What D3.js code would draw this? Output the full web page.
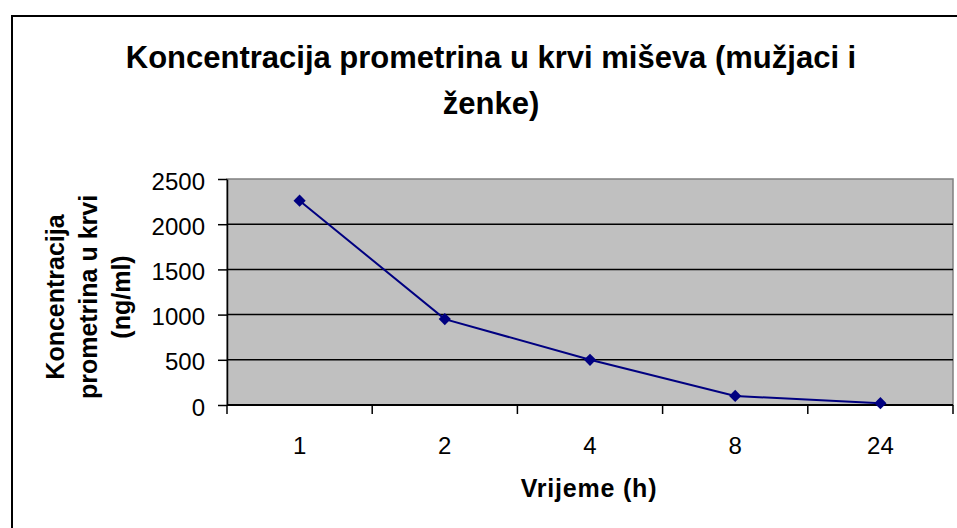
<!DOCTYPE html>
<html>
<head>
<meta charset="utf-8">
<script src="https://cdn.jsdelivr.net/npm/d3@7"></script>
<style>
  body { margin: 0; background: #fff; }
  text { font-family: "Liberation Sans", Arial, sans-serif; fill: #000; }
</style>
</head>
<body>
<div id="chart"></div>
<script>
// chart data
const CATEGORIES = ['1', '2', '4', '8', '24'];
const VALUES = [2260, 950, 500, 100, 20];
const Y_TICKS = [0, 500, 1000, 1500, 2000, 2500];
const TITLE_LINES = ['Koncentracija prometrina u krvi miševa (mužjaci i', 'ženke)'];
const Y_TITLE_LINES = ['Koncentracija', 'prometrina u krvi', '(ng/ml)'];
const X_TITLE = 'Vrijeme (h)';

const FRAME_WIDTH = 957;
const FRAME_HEIGHT = 528;
const PLOT = {left: 227, right: 953, top: 179, bottom: 405};

const svg = d3.select('#chart')
  .append('svg')
    .attr('width', FRAME_WIDTH)
    .attr('height', FRAME_HEIGHT);

// outer chart border
svg.append('rect')
  .attr('x', 12).attr('y', 16)
  .attr('width', 960).attr('height', 540)
  .attr('fill', '#fff')
  .attr('stroke', '#000')
  .attr('stroke-width', 2);

const xscale = d3.scaleBand()
  .domain(CATEGORIES)
  .range([PLOT.left, PLOT.right]);

const yscale = d3.scaleLinear()
  .domain([0, 2500])
  .range([PLOT.bottom, PLOT.top]);

// plot area
svg.append('rect')
  .attr('x', PLOT.left).attr('y', PLOT.top)
  .attr('width', PLOT.right - PLOT.left)
  .attr('height', PLOT.bottom - PLOT.top)
  .attr('fill', '#c0c0c0')
  .attr('stroke', '#808080')
  .attr('stroke-width', 1.5);

// gridlines
svg.selectAll('.grid')
  .data(Y_TICKS.filter((d) => d > 0 && d < 2500))
  .enter()
  .append('line')
    .attr('x1', PLOT.left).attr('x2', PLOT.right)
    .attr('y1', (d) => yscale(d)).attr('y2', (d) => yscale(d))
    .attr('stroke', '#000')
    .attr('stroke-width', 1.5);

// y axis
const yAxis = svg.append('g')
  .attr('transform', 'translate(' + PLOT.left + ',0)')
  .call(d3.axisLeft(yscale)
    .tickValues(Y_TICKS)
    .tickFormat(d3.format('d'))
    .tickSize(9).tickPadding(13).tickSizeOuter(0));
yAxis.selectAll('text')
  .attr('font-size', '24px')
  .attr('font-family', '"Liberation Sans", Arial, sans-serif')
  .attr('dy', '0.42em');
yAxis.selectAll('line, path').attr('stroke', '#000').attr('stroke-width', 1.5);

// x axis: ticks at band boundaries, labels at band centres
const xAxisG = svg.append('g');
xAxisG.append('line')
  .attr('x1', PLOT.left).attr('x2', PLOT.right)
  .attr('y1', PLOT.bottom).attr('y2', PLOT.bottom)
  .attr('stroke', '#000').attr('stroke-width', 2);
const bounds = CATEGORIES.map((d) => xscale(d)).concat([xscale.range()[1]]);
xAxisG.selectAll('.xtick')
  .data(bounds)
  .enter()
  .append('line')
    .attr('x1', (d) => d).attr('x2', (d) => d)
    .attr('y1', PLOT.bottom).attr('y2', PLOT.bottom + 9)
    .attr('stroke', '#000').attr('stroke-width', 1.5);
xAxisG.selectAll('.xlabel')
  .data(CATEGORIES)
  .enter()
  .append('text')
    .attr('x', (d) => xscale(d) + xscale.bandwidth() / 2)
    .attr('y', 454)
    .attr('text-anchor', 'middle')
    .attr('font-size', '24px')
    .text((d) => d);

// data line
const line = d3.line()
  .x((d, i) => xscale(CATEGORIES[i]) + xscale.bandwidth() / 2)
  .y((d) => yscale(d));

svg.append('path')
  .datum(VALUES)
  .attr('d', line)
  .attr('fill', 'none')
  .attr('stroke', '#000080')
  .attr('stroke-width', 2);

svg.selectAll('.pt')
  .data(VALUES)
  .enter()
  .append('path')
    .attr('d', d3.symbol().type(d3.symbolDiamond2).size(95))
    .attr('transform', (d, i) => 'translate(' + (xscale(CATEGORIES[i]) + xscale.bandwidth() / 2) + ',' + yscale(d) + ')')
    .attr('fill', '#000080');

// title
svg.append('text')
  .attr('text-anchor', 'middle')
  .attr('font-size', '31px')
  .attr('font-weight', 'bold')
  .selectAll('tspan')
  .data(TITLE_LINES)
  .enter()
  .append('tspan')
    .attr('x', 491)
    .attr('y', (d, i) => 68 + i * 46)
    .text((d) => d);

// y axis title
svg.append('text')
  .attr('transform', 'translate(0,297) rotate(-90)')
  .attr('text-anchor', 'middle')
  .attr('font-size', '25px')
  .attr('font-weight', 'bold')
  .selectAll('tspan')
  .data(Y_TITLE_LINES)
  .enter()
  .append('tspan')
    .attr('x', 0)
    .attr('y', (d, i) => 64 + i * 33)
    .text((d) => d);

// x axis title
svg.append('text')
  .attr('x', 589)
  .attr('y', 497)
  .attr('text-anchor', 'middle')
  .attr('font-size', '25px')
  .attr('font-weight', 'bold')
  .attr('letter-spacing', '0.8px')
  .text(X_TITLE);
</script>
</body>
</html>
